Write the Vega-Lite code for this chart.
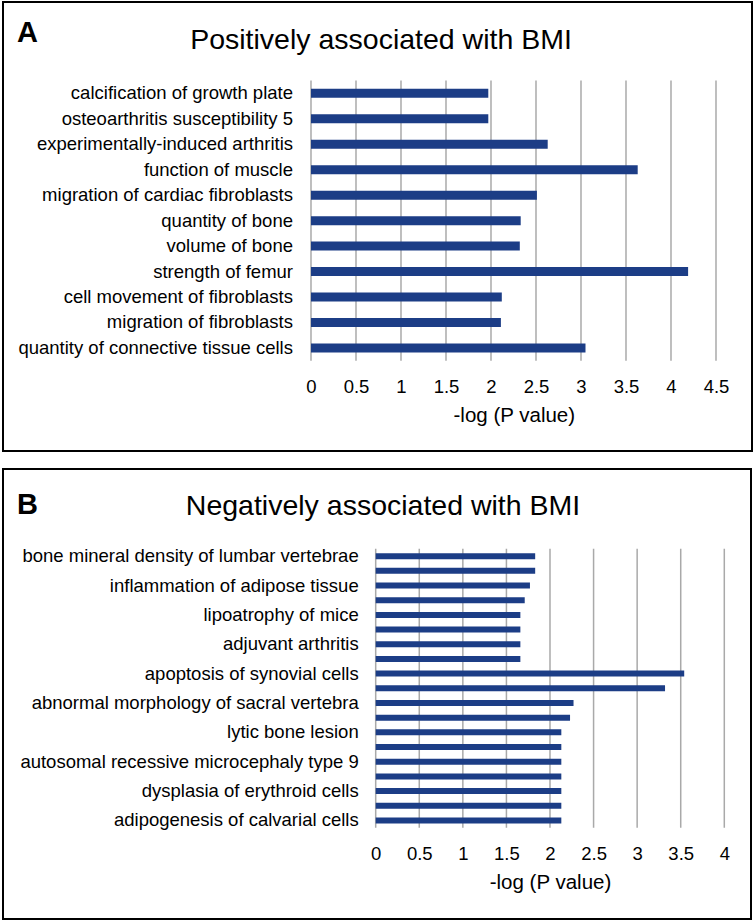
{
  "$schema": "https://vega.github.io/schema/vega-lite/v6.json",
  "padding": {"left": 2, "top": 1, "right": 4, "bottom": 3},
  "background": "white",
  "spacing": 16,
  "config": {
    "view": {"stroke": "#000000", "strokeWidth": 2},
    "font": "Liberation Sans"
  },
  "datasets": {
    "posA": [
      {"rank": 1, "term": "calcification of growth plate", "value": 1.97},
      {"rank": 2, "term": "osteoarthritis susceptibility 5", "value": 1.97},
      {"rank": 3, "term": "experimentally-induced arthritis", "value": 2.63},
      {"rank": 4, "term": "function of muscle", "value": 3.63},
      {"rank": 5, "term": "migration of cardiac fibroblasts", "value": 2.51},
      {"rank": 6, "term": "quantity of bone", "value": 2.33},
      {"rank": 7, "term": "volume of bone", "value": 2.32},
      {"rank": 8, "term": "strength of femur", "value": 4.19},
      {"rank": 9, "term": "cell movement of fibroblasts", "value": 2.12},
      {"rank": 10, "term": "migration of fibroblasts", "value": 2.11},
      {"rank": 11, "term": "quantity of connective tissue cells", "value": 3.05}
    ],
    "gridA": [
      {"tick": 0}, {"tick": 0.5}, {"tick": 1}, {"tick": 1.5}, {"tick": 2},
      {"tick": 2.5}, {"tick": 3}, {"tick": 3.5}, {"tick": 4}, {"tick": 4.5}
    ],
    "negB": [
      {"rank": 1, "term": "bone mineral density of lumbar vertebrae", "value": 1.83},
      {"rank": 2, "term": "", "value": 1.83},
      {"rank": 3, "term": "inflammation of adipose tissue", "value": 1.77},
      {"rank": 4, "term": "", "value": 1.71},
      {"rank": 5, "term": "lipoatrophy of mice", "value": 1.66},
      {"rank": 6, "term": "", "value": 1.66},
      {"rank": 7, "term": "adjuvant arthritis", "value": 1.66},
      {"rank": 8, "term": "", "value": 1.66},
      {"rank": 9, "term": "apoptosis of synovial cells", "value": 3.54},
      {"rank": 10, "term": "", "value": 3.32},
      {"rank": 11, "term": "abnormal morphology of sacral vertebra", "value": 2.27},
      {"rank": 12, "term": "", "value": 2.23},
      {"rank": 13, "term": "lytic bone lesion", "value": 2.13},
      {"rank": 14, "term": "", "value": 2.13},
      {"rank": 15, "term": "autosomal recessive microcephaly type 9", "value": 2.13},
      {"rank": 16, "term": "", "value": 2.13},
      {"rank": 17, "term": "dysplasia of erythroid cells", "value": 2.13},
      {"rank": 18, "term": "", "value": 2.13},
      {"rank": 19, "term": "adipogenesis of calvarial cells", "value": 2.13}
    ],
    "gridB": [
      {"tick": 0}, {"tick": 0.5}, {"tick": 1}, {"tick": 1.5}, {"tick": 2},
      {"tick": 2.5}, {"tick": 3}, {"tick": 3.5}, {"tick": 4}
    ],
    "panels": [
      {"panel": "A", "title": "Positively associated with BMI"},
      {"panel": "B", "title": "Negatively associated with BMI"}
    ]
  },
  "vconcat": [
    {
      "width": 749,
      "height": 449,
      "layer": [
        {
          "data": {"name": "gridA"},
          "mark": {"type": "rule", "color": "#a9a9a9", "strokeWidth": 1.5},
          "encoding": {
            "x": {
              "field": "tick",
              "type": "quantitative",
              "scale": {"domain": [-3.4222, 4.9], "nice": false, "zero": false},
              "axis": {
                "values": [0, 0.5, 1, 1.5, 2, 2.5, 3, 3.5, 4, 4.5],
                "format": "~g",
                "grid": false,
                "domain": false,
                "ticks": false,
                "tickSize": 0,
                "labelPadding": 14,
                "labelFontSize": 18.5,
                "labelColor": "#000000",
                "labelFont": "Liberation Sans",
                "labelFlush": false,
                "labelOverlap": false,
                "title": "-log (P value)",
                "titleFont": "Liberation Sans",
                "titleFontSize": 20.5,
                "titleFontWeight": "normal",
                "titleColor": "#000000",
                "titleX": 510.8,
                "titleY": 52,
                "titleBaseline": "middle",
                "titleAlign": "center",
                "offset": -87.3
              }
            },
            "y": {
              "datum": 0.5,
              "type": "quantitative",
              "scale": {"domain": [-2.391, 14.852], "reverse": true, "nice": false, "zero": false},
              "axis": null
            },
            "y2": {"datum": 11.5}
          }
        },
        {
          "data": {"name": "posA"},
          "mark": {"type": "bar", "orient": "horizontal", "size": 9, "color": "#1c3d86"},
          "encoding": {
            "x": {"field": "value", "type": "quantitative"},
            "x2": {"datum": 0},
            "y": {"field": "rank", "type": "quantitative", "axis": null}
          }
        },
        {
          "data": {"name": "posA"},
          "mark": {"type": "text", "align": "right", "baseline": "middle", "dx": -18, "fontSize": 18.5, "color": "#000000", "font": "Liberation Sans"},
          "encoding": {
            "x": {"datum": 0, "type": "quantitative"},
            "y": {"field": "rank", "type": "quantitative", "axis": null},
            "text": {"field": "term"}
          }
        },
        {
          "data": {"name": "panels"},
          "transform": [{"filter": "datum.panel == 'A'"}],
          "mark": {"type": "text", "align": "left", "baseline": "alphabetic", "fontSize": 29, "fontWeight": "bold", "color": "#000000", "font": "Liberation Sans"},
          "encoding": {
            "x": {"datum": -3.2667, "type": "quantitative"},
            "y": {"datum": -1.035, "type": "quantitative", "axis": null},
            "text": {"field": "panel"}
          }
        },
        {
          "data": {"name": "panels"},
          "transform": [{"filter": "datum.panel == 'A'"}],
          "mark": {"type": "text", "align": "center", "baseline": "alphabetic", "fontSize": 28.5, "fontWeight": "normal", "color": "#000000", "font": "Liberation Sans"},
          "encoding": {
            "x": {"datum": 0.7778, "type": "quantitative"},
            "y": {"datum": -0.7397, "type": "quantitative", "axis": null},
            "text": {"field": "title"}
          }
        }
      ]
    },
    {
      "width": 748,
      "height": 450,
      "layer": [
        {
          "data": {"name": "gridB"},
          "mark": {"type": "rule", "color": "#a9a9a9", "strokeWidth": 1.5},
          "encoding": {
            "x": {
              "field": "tick",
              "type": "quantitative",
              "scale": {"domain": [-4.2765, 4.3064], "nice": false, "zero": false},
              "axis": {
                "values": [0, 0.5, 1, 1.5, 2, 2.5, 3, 3.5, 4],
                "format": "~g",
                "grid": false,
                "domain": false,
                "ticks": false,
                "tickSize": 0,
                "labelPadding": 14,
                "labelFontSize": 18.5,
                "labelColor": "#000000",
                "labelFont": "Liberation Sans",
                "labelFlush": false,
                "labelOverlap": false,
                "title": "-log (P value)",
                "titleFont": "Liberation Sans",
                "titleFontSize": 20.5,
                "titleFontWeight": "normal",
                "titleColor": "#000000",
                "titleX": 547,
                "titleY": 52,
                "titleBaseline": "middle",
                "titleAlign": "center",
                "offset": -88.2
              }
            },
            "y": {
              "datum": 0.5,
              "type": "quantitative",
              "scale": {"domain": [-4.5925, 25.368], "reverse": true, "nice": false, "zero": false},
              "axis": null
            },
            "y2": {"datum": 19.5}
          }
        },
        {
          "data": {"name": "negB"},
          "mark": {"type": "bar", "orient": "horizontal", "size": 6, "color": "#1c3d86"},
          "encoding": {
            "x": {"field": "value", "type": "quantitative"},
            "x2": {"datum": 0},
            "y": {"field": "rank", "type": "quantitative", "axis": null}
          }
        },
        {
          "data": {"name": "negB"},
          "transform": [{"filter": "datum.term != ''"}],
          "mark": {"type": "text", "align": "right", "baseline": "middle", "dx": -17, "fontSize": 18.5, "color": "#000000", "font": "Liberation Sans"},
          "encoding": {
            "x": {"datum": 0, "type": "quantitative"},
            "y": {"field": "rank", "type": "quantitative", "axis": null},
            "text": {"field": "term"}
          }
        },
        {
          "data": {"name": "panels"},
          "transform": [{"filter": "datum.panel == 'B'"}],
          "mark": {"type": "text", "align": "left", "baseline": "alphabetic", "fontSize": 29, "fontWeight": "bold", "color": "#000000", "font": "Liberation Sans"},
          "encoding": {
            "x": {"datum": -4.1159, "type": "quantitative"},
            "y": {"datum": -1.8628, "type": "quantitative", "axis": null},
            "text": {"field": "panel"}
          }
        },
        {
          "data": {"name": "panels"},
          "transform": [{"filter": "datum.panel == 'B'"}],
          "mark": {"type": "text", "align": "center", "baseline": "alphabetic", "fontSize": 28.5, "fontWeight": "normal", "color": "#000000", "font": "Liberation Sans"},
          "encoding": {
            "x": {"datum": 0.0838, "type": "quantitative"},
            "y": {"datum": -1.7962, "type": "quantitative", "axis": null},
            "text": {"field": "title"}
          }
        }
      ]
    }
  ]
}
